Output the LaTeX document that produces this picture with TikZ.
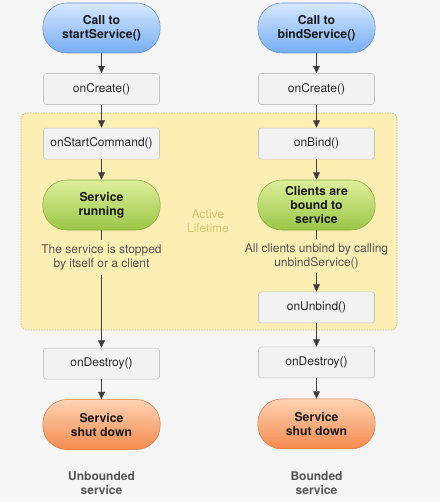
\documentclass[tikz,border=0pt]{standalone}
\usepackage{fontspec}
\setmainfont{TeX Gyre Heros}
\usetikzlibrary{positioning, arrows.meta}
\newcommand{\OnCreate}{onCreate()}
\newcommand{\OnStartCmd}{onStartCommand()}
\newcommand{\OnBind}{onBind()}
\newcommand{\OnUnbind}{onUnbind()}
\newcommand{\OnDestroy}{onDestroy()}
\definecolor{mybg}{HTML}{F6F6F6}
\definecolor{myboxfill}{HTML}{F2F2F2}
\definecolor{myboxline}{HTML}{C6C6C6}
\definecolor{myyellow}{HTML}{FDEFB4}
\definecolor{myyellowline}{HTML}{C9B783}
\definecolor{mygold}{HTML}{D6C473}
\definecolor{myarrow}{HTML}{3D3D3D}
\definecolor{mynote}{HTML}{555555}
\definecolor{bluetop}{HTML}{D6E9FF}
\definecolor{bluebot}{HTML}{76ACF3}
\definecolor{blueline}{HTML}{6690CC}
\definecolor{greentop}{HTML}{DDEF9C}
\definecolor{greenbot}{HTML}{9BC646}
\definecolor{greenline}{HTML}{88AC3C}
\definecolor{orangetop}{HTML}{FFD3B3}
\definecolor{orangebot}{HTML}{F48A4E}
\definecolor{orangeline}{HTML}{D97A48}

\begin{document}
\begin{tikzpicture}[x=0.75pt, y=-0.75pt, ->, >={Triangle[length=5.5pt,width=5pt]},
    draw=myarrow, node distance=45.75pt,
    method/.style={draw=myboxline, fill=myboxfill, rounded corners=2pt,
      minimum width=87pt, minimum height=23.25pt, inner sep=0pt,
      font=\fontsize{9}{10.5}\selectfont, text=black!85},
    pill/.style={rounded corners=18pt, minimum width=88pt, minimum height=37.5pt,
      inner sep=0pt, align=center, text=black!90,
      font=\fontsize{9.2}{10.5}\selectfont\bfseries},
    startpill/.style={pill, draw=blueline, top color=bluetop, bottom color=bluebot},
    runpill/.style={pill, draw=greenline, top color=greentop, bottom color=greenbot},
    endpill/.style={pill, draw=orangeline, top color=orangetop, bottom color=orangebot},
    note/.style={align=center, text=mynote, font=\fontsize{9}{10.5}\selectfont},
    kind/.style={align=center, text=mynote, font=\fontsize{9}{10.5}\selectfont\bfseries}]
  \useasboundingbox (0,0) rectangle (440,502);
  \fill[mybg] (0,0) rectangle (440,502);
  \draw[-, draw=myyellowline, fill=myyellow, line width=0.5pt,
    dash pattern=on 1pt off 1pt, rounded corners=4pt] (21,113) rectangle (397,330);
  \node[note, text=mygold] (active) at (208,221) {Active\\Lifetime};

  % started service
  \node[startpill] (callL) at (101.5,28) {Call to\\startService()};
  \node[method, below of=callL]                         (createL)  {\OnCreate};
  \node[method, below of=createL, node distance=40.9pt] (startcmd) {\OnStartCmd};
  \node[runpill, below of=startcmd, node distance=46.1pt] (running) {Service\\running};
  \node[note, below of=running, node distance=39.4pt]   (stopped)  {The service is stopped\\by itself or a client};
  \node[method, below of=stopped, node distance=79.5pt] (destroyL) {\OnDestroy};
  \node[endpill, below of=destroyL]                     (shutL)    {Service\\shut down};
  \node[kind, below of=shutL, node distance=43.9pt]     (unbounded) {Unbounded\\service};

  % bound service
  \node[startpill] (callR) at (316.5,28) {Call to\\bindService()};
  \node[method, below of=callR]                         (createR)  {\OnCreate};
  \node[method, below of=createR, node distance=40.9pt] (bind)     {\OnBind};
  \node[runpill, below of=bind, node distance=46.1pt]   (clients)  {Clients are\\bound to\\service};
  \node[note, below of=clients, node distance=38.25pt]  (unbindall) {All clients unbind by calling\\unbindService()};
  \node[method, below of=unbindall, node distance=38.6pt] (unbind) {\OnUnbind};
  \node[method, below of=unbind, node distance=41.25pt] (destroyR) {\OnDestroy};
  \node[endpill, below of=destroyR, node distance=46.1pt] (shutR)  {Service\\shut down};
  \node[kind, below of=shutR, node distance=44.25pt]    (bounded)  {Bounded\\service};

  \draw (callL) -- (createL);
  \draw (createL) -- (startcmd);
  \draw (startcmd) -- (running);
  \draw[-] (running) -- (stopped);
  \draw (stopped) -- (destroyL);
  \draw (destroyL) -- (shutL);

  \draw (callR) -- (createR);
  \draw (createR) -- (bind);
  \draw (bind) -- (clients);
  \draw[-] (clients) -- (unbindall);
  \draw (unbindall) -- (unbind);
  \draw (unbind) -- (destroyR);
  \draw (destroyR) -- (shutR);
\end{tikzpicture}
\end{document}
